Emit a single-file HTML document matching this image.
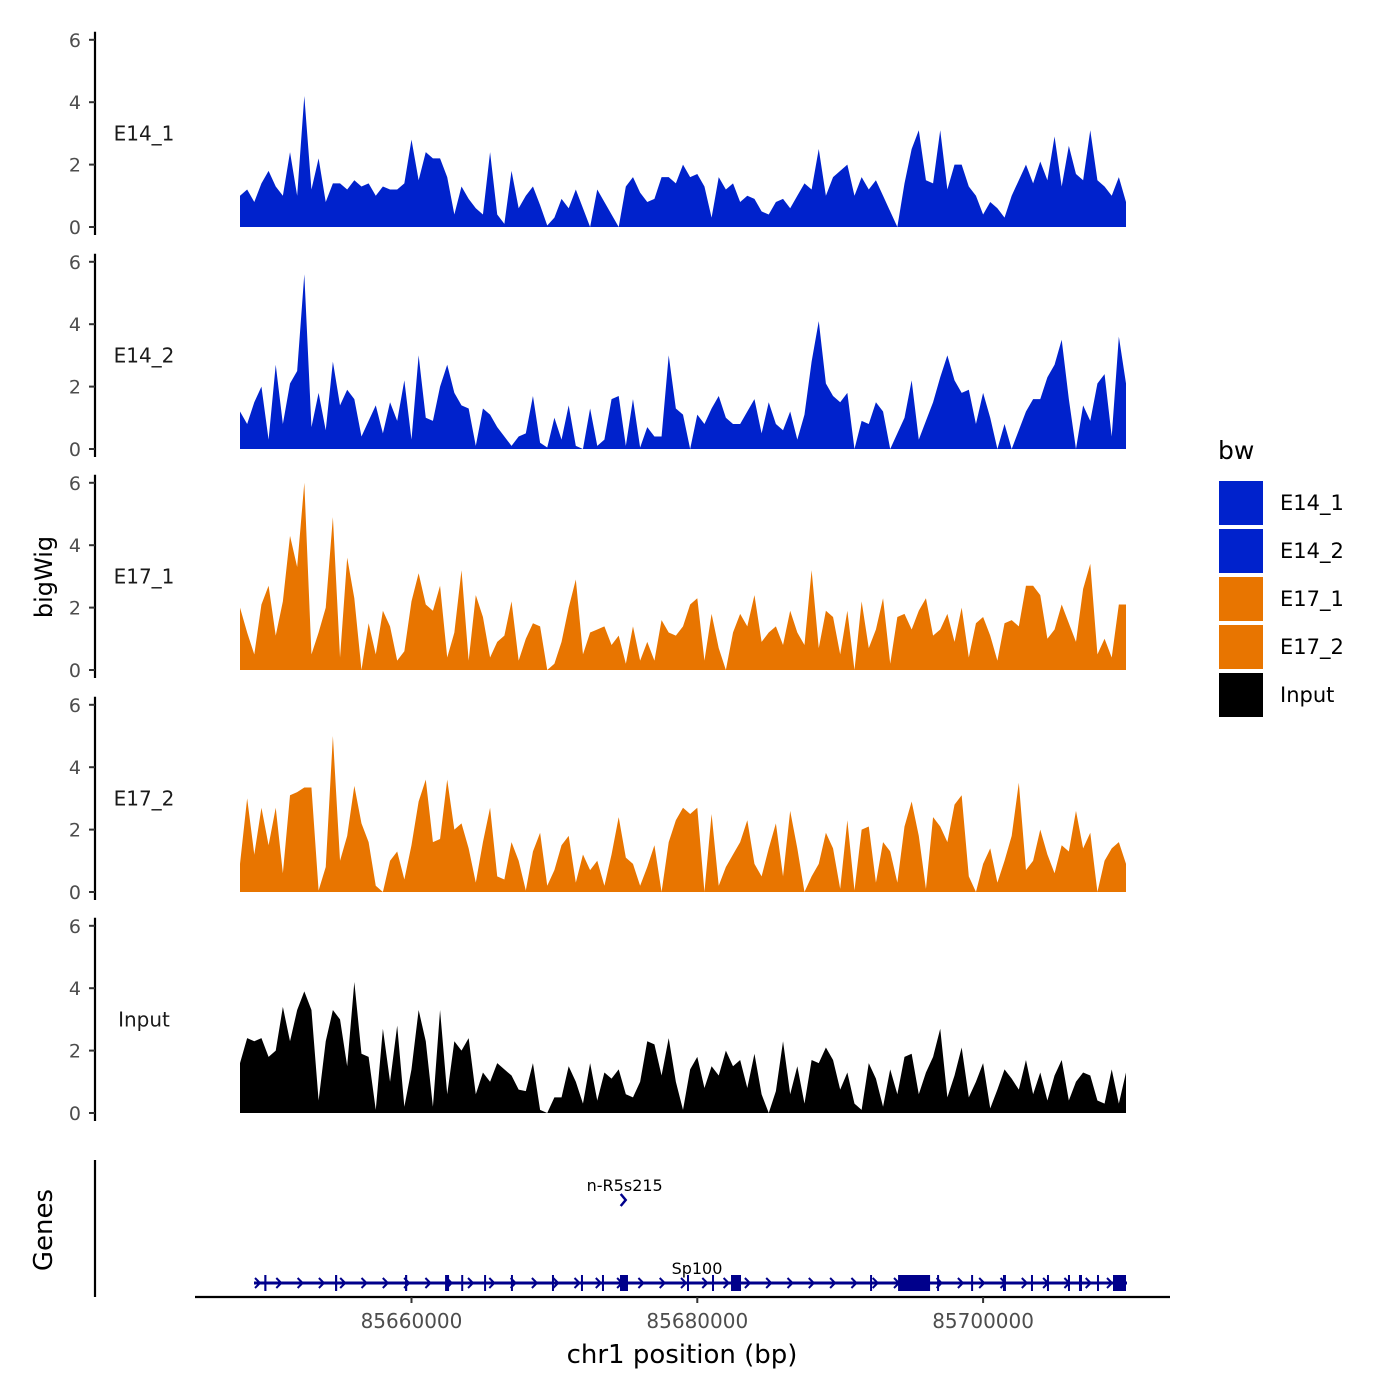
<!DOCTYPE html>
<html><head><meta charset="utf-8"><style>
html,body{margin:0;padding:0;background:#fff;}
svg{display:block;font-family:"DejaVu Sans","Liberation Sans",sans-serif;}
</style></head><body>
<svg id="chart" width="1400" height="1400" viewBox="0 0 1400 1400" xmlns="http://www.w3.org/2000/svg">
<rect width="1400" height="1400" fill="#fff"/>
<g id="tracks"></g>
<g id="genes"></g>
<g id="axes"></g>
<text x="52" y="577" transform="rotate(-90 52 577)" text-anchor="middle" font-size="24" fill="#000">bigWig</text>
<text x="52" y="1230" transform="rotate(-90 52 1230)" text-anchor="middle" font-size="26" fill="#000">Genes</text>
<text x="682" y="1363" text-anchor="middle" font-size="26" fill="#000">chr1 position (bp)</text>
<g id="legend"></g>
</svg>
<script>
const trackNames = ["E14_1","E14_2","E17_1","E17_2","Input"];
const trackColors = ["#0022cc","#0022cc","#e87500","#e87500","#000000"];
const binStart = 85648000;
const binSize = 500;
const yTicks = [0,2,4,6];
const xTicks = [85660000,85680000,85700000];
const xTickLabels = ["85660000","85680000","85700000"];
const e14_1 = [1.0,1.2,0.8,1.4,1.8,1.3,1.0,2.4,1.0,4.2,1.2,2.2,0.8,1.4,1.4,1.2,1.5,1.3,1.4,1.0,1.3,1.2,1.2,1.4,2.8,1.5,2.4,2.2,2.2,1.6,0.4,1.3,0.9,0.6,0.4,2.4,0.4,0.1,1.8,0.6,1.0,1.3,0.7,0.05,0.3,0.9,0.6,1.2,0.6,0.0,1.2,0.8,0.4,0.0,1.3,1.6,1.1,0.8,0.9,1.6,1.6,1.4,2.0,1.6,1.7,1.3,0.3,1.6,1.2,1.4,0.8,1.0,0.9,0.5,0.4,0.8,0.9,0.6,1.0,1.4,1.2,2.5,1.0,1.6,1.8,2.0,1.0,1.6,1.2,1.5,1.0,0.5,0.0,1.4,2.5,3.1,1.5,1.4,3.1,1.2,2.0,2.0,1.3,1.0,0.4,0.8,0.6,0.3,1.0,1.5,2.0,1.4,2.1,1.5,2.9,1.3,2.6,1.7,1.5,3.1,1.5,1.3,1.0,1.6,0.8];
const e14_2 = [1.2,0.8,1.5,2.0,0.3,2.7,0.8,2.1,2.5,5.6,0.7,1.8,0.6,2.8,1.4,1.9,1.6,0.4,0.9,1.4,0.5,1.5,0.9,2.2,0.3,3.0,1.0,0.9,2.0,2.7,1.8,1.4,1.3,0.1,1.3,1.1,0.7,0.4,0.1,0.4,0.5,1.7,0.2,0.05,1.0,0.3,1.4,0.1,0,1.3,0.1,0.3,1.6,1.7,0.1,1.6,0.05,0.7,0.4,0.4,3.0,1.3,1.1,0,1.1,0.8,1.3,1.7,1.0,0.8,0.8,1.2,1.6,0.5,1.5,0.8,0.6,1.2,0.3,1.1,2.8,4.1,2.1,1.7,1.5,1.8,0,0.9,0.8,1.5,1.2,0,0.5,1.0,2.2,0.3,0.9,1.5,2.3,3.0,2.2,1.8,1.9,0.8,1.8,1.0,0,0.8,0,0.6,1.2,1.6,1.6,2.3,2.7,3.5,1.6,0,1.4,0.9,2.1,2.4,0.4,3.6,2.1];
const e17_1 = [2.0,1.2,0.5,2.1,2.7,1.1,2.2,4.3,3.3,6.0,0.5,1.2,2.0,4.9,0.4,3.6,2.3,0,1.5,0.5,1.9,1.4,0.3,0.6,2.2,3.1,2.1,1.9,2.7,0.4,1.2,3.2,0.3,2.4,1.7,0.4,0.9,1.1,2.2,0.3,1.0,1.5,1.4,0,0.2,0.9,2.0,2.9,0.5,1.2,1.3,1.4,0.8,1.1,0.2,1.4,0.3,0.9,0.3,1.6,1.2,1.1,1.4,2.1,2.3,0.3,1.8,0.7,0,1.2,1.8,1.4,2.4,0.9,1.2,1.4,0.8,1.9,1.2,0.8,3.2,0.7,1.9,1.7,0.5,1.9,0,2.2,0.7,1.3,2.3,0.2,1.7,1.8,1.3,1.9,2.3,1.1,1.3,1.8,0.9,2.0,0.4,1.5,1.7,1.1,0.3,1.5,1.6,1.4,2.7,2.7,2.4,1.0,1.3,2.1,1.5,0.9,2.6,3.4,0.5,1.0,0.4,2.1,2.1];
const e17_2 = [0.9,3.0,1.2,2.7,1.5,2.7,0.6,3.1,3.2,3.35,3.35,0.05,0.8,5.0,1.0,1.8,3.4,2.2,1.6,0.2,0,1.0,1.3,0.4,1.5,2.9,3.6,1.6,1.7,3.6,2.0,2.2,1.4,0.3,1.6,2.7,0.5,0.4,1.6,1.0,0.05,1.3,1.9,0.2,0.7,1.5,1.8,0.3,1.2,0.7,1.0,0.2,1.2,2.4,1.1,0.9,0.2,0.8,1.5,0,1.6,2.3,2.7,2.5,2.7,0,2.5,0.2,0.8,1.2,1.6,2.3,0.9,0.5,1.4,2.2,0.5,2.6,1.4,0,0.5,0.9,1.9,1.4,0.1,2.3,0.05,2.0,2.1,0.3,1.6,1.3,0.3,2.1,2.9,1.8,0.1,2.4,2.1,1.6,2.8,3.1,0.5,0,0.9,1.4,0.3,1.0,1.8,3.5,0.7,1.0,2.0,1.2,0.6,1.5,1.3,2.6,1.4,1.9,0,1.0,1.4,1.6,0.9];
const input = [1.6,2.4,2.3,2.4,1.8,2.0,3.4,2.3,3.3,3.9,3.3,0.4,2.3,3.3,3.0,1.5,4.2,1.9,1.8,0.1,2.7,1.0,2.8,0.2,1.4,3.3,2.3,0.2,3.3,0.6,2.3,2.0,2.4,0.6,1.3,1.0,1.6,1.4,1.2,0.75,0.7,1.6,0.1,0,0.5,0.5,1.5,1.0,0.3,1.6,0.4,1.3,1.1,1.4,0.6,0.5,1.0,2.3,2.2,1.2,2.4,1.0,0.1,1.4,1.8,0.8,1.5,1.2,2.0,1.5,1.7,0.8,1.9,0.6,0,0.7,2.3,0.6,1.5,0.3,1.7,1.6,2.1,1.7,0.75,1.3,0.3,0.1,1.6,1.1,0.2,1.4,0.6,1.8,1.9,0.6,1.3,1.8,2.7,0.5,1.2,2.1,0.5,1.0,1.6,0.15,0.75,1.4,1.1,0.75,1.7,0.6,1.3,0.4,1.2,1.7,0.4,1.0,1.3,1.2,0.4,0.3,1.4,0.3,1.3];
const trackValues = [e14_1,e14_2,e17_1,e17_2,input];
const exonStarts = [85649700,85654650,85659550,85662350,85663480,85665080,85666960,85669830,85671860,85673330,85674590,85679280,85681030,85682360,85692090,85694050,85696780,85699160,85701390,85703350,85704470,85705940,85706710,85707970,85709090];
const exonEnds   = [85649850,85654800,85659700,85662630,85663620,85665220,85667100,85669970,85672000,85673470,85675150,85679420,85681170,85683060,85692230,85696290,85696920,85699300,85701600,85703490,85704610,85706080,85706920,85708110,85710000];
const geneStart = 85648980, geneEnd = 85710070;
const rnaPos = 85674850;

const NS="http://www.w3.org/2000/svg";
function mk(tag,attrs,parent){const e=document.createElementNS(NS,tag);for(const k in attrs)e.setAttribute(k,attrs[k]);parent.appendChild(e);return e;}
function xScale(bp){return 240+(bp-binStart)*(886/62000);}
const panelZero=[227,449,670,892,1113];
const unit=31.2;
function yScale(p,v){return panelZero[p]-v*unit;}

const tracksG=document.getElementById('tracks');
const axesG=document.getElementById('axes');
trackValues.forEach((vals,p)=>{
  let d="M"+xScale(binStart).toFixed(2)+","+yScale(p,0);
  vals.forEach((v,i)=>{d+=" L"+xScale(binStart+i*binSize).toFixed(2)+","+yScale(p,v).toFixed(2);});
  d+=" L"+xScale(binStart+(vals.length-1)*binSize).toFixed(2)+","+yScale(p,0)+" Z";
  const path=mk('path',{d:d,fill:trackColors[p]},tracksG);
  
  
  const ax=mk('line',{x1:95,x2:95,y1:yScale(p,6)-8,y2:yScale(p,0)+8,stroke:'#000','stroke-width':2.2},axesG);
  
  
  yTicks.forEach(t=>{
    const tk=mk('line',{x1:89,x2:95,y1:yScale(p,t),y2:yScale(p,t),stroke:'#333','stroke-width':2},axesG);
    
    
    const tl=mk('text',{x:81,y:yScale(p,t)+7,'text-anchor':'end','font-size':19,fill:'#4d4d4d'},axesG);
    tl.textContent=t;
    
    
  });
  const lb=mk('text',{x:144,y:yScale(p,3)+7,'text-anchor':'middle','font-size':20,fill:'#1a1a1a'},axesG);
  lb.textContent=trackNames[p];
  
  
});

const genesG=document.getElementById('genes');
const gy=1283;
const ln=mk('line',{x1:xScale(geneStart),x2:xScale(geneEnd),y1:gy,y2:gy,stroke:'#00008b','stroke-width':3},genesG);


for(let x=xScale(geneStart)+4;x<xScale(geneEnd)-4;x+=21.3){
  const ch=mk('polyline',{points:(x-3)+","+(gy-5)+" "+(x+2)+","+gy+" "+(x-3)+","+(gy+5),fill:'none',stroke:'#00008b','stroke-width':2},genesG);
  
  
}
exonStarts.forEach((s,i)=>{
  const x1=xScale(s),x2=xScale(exonEnds[i]);
  const r=mk('rect',{x:x1,y:gy-8,width:Math.max(2,x2-x1),height:16,fill:'#00008b'},genesG);
  
  
});
const gl=mk('text',{x:697,y:1274,'text-anchor':'middle','font-size':16,fill:'#000'},genesG);
gl.textContent="Sp100";


const rx=xScale(rnaPos);
const rc=mk('polyline',{points:(rx-3)+",1194 "+(rx+2)+",1200 "+(rx-3)+",1206",fill:'none',stroke:'#00008b','stroke-width':2.5},genesG);


const rl=mk('text',{x:rx+1,y:1191,'text-anchor':'middle','font-size':16,fill:'#000'},genesG);
rl.textContent="n-R5s215";


const gax=mk('line',{x1:95,x2:95,y1:1160,y2:1297,stroke:'#000','stroke-width':2.2},axesG);


const xax=mk('line',{x1:195,x2:1170,y1:1297,y2:1297,stroke:'#000','stroke-width':2.2},axesG);


xTicks.forEach((t,i)=>{
  const tk=mk('line',{x1:xScale(t),x2:xScale(t),y1:1297,y2:1303,stroke:'#333','stroke-width':2},axesG);
  
  
  const tl=mk('text',{x:xScale(t),y:1328,'text-anchor':'middle','font-size':20,fill:'#4d4d4d'},axesG);
  tl.textContent=xTickLabels[i];
  
  
});

const legG=document.getElementById('legend');
const lt=mk('text',{x:1218,y:459,'font-size':25,fill:'#000'},legG);
lt.textContent="bw";


const legNames=["E14_1","E14_2","E17_1","E17_2","Input"];
const legColors=["#0022cc","#0022cc","#e87500","#e87500","#000000"];
legNames.forEach((n,i)=>{
  const y=481+i*48;
  const sw=mk('rect',{x:1219,y:y,width:44,height:44,fill:legColors[i]},legG);
  
  
  const tx=mk('text',{x:1280,y:y+29,'font-size':21,fill:'#000'},legG);
  tx.textContent=n;
  
  
});
</script>
</body></html>
